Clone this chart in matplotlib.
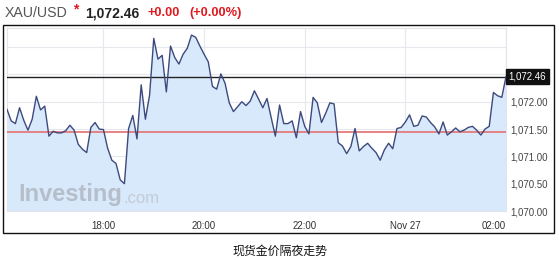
import matplotlib
matplotlib.use("Agg")
import matplotlib.pyplot as plt
from matplotlib.patches import Rectangle
import pandas as pd

plt.rcParams["font.family"] = ["Liberation Sans", "DejaVu Sans"]

# ── data (5-minute XAU/USD quotes, 16:05 -> 02:00) ─────────────────────────────
start_time = "2015-11-26 16:05"
n_points = 120
prices = [
    1071.86, 1071.65, 1071.60, 1071.89, 1071.66, 1071.48, 1071.68, 1072.10, 1071.85, 1071.92,
    1071.37, 1071.46, 1071.43, 1071.43, 1071.47, 1071.57, 1071.48, 1071.22, 1071.13, 1071.07,
    1071.53, 1071.62, 1071.50, 1071.49, 1071.15, 1070.93, 1070.87, 1070.57, 1070.50, 1071.51,
    1071.75, 1071.32, 1072.31, 1071.68, 1072.12, 1073.16, 1072.78, 1072.85, 1072.18, 1073.02,
    1072.81, 1072.69, 1072.87, 1072.98, 1073.22, 1073.18, 1073.02, 1072.87, 1072.73, 1072.28,
    1072.23, 1072.51, 1072.34, 1071.98, 1071.82, 1071.91, 1072.00, 1071.93, 1072.01, 1072.20,
    1072.05, 1071.89, 1072.06, 1071.71, 1071.37, 1071.94, 1071.60, 1071.60, 1071.65, 1071.34,
    1071.82, 1071.55, 1071.41, 1072.08, 1071.98, 1071.62, 1071.79, 1071.98, 1071.96, 1071.25,
    1071.19, 1071.05, 1071.18, 1071.51, 1071.10, 1071.18, 1071.24, 1071.15, 1071.07, 1070.93,
    1071.12, 1071.24, 1071.14, 1071.51, 1071.53, 1071.63, 1071.76, 1071.55, 1071.57, 1071.74,
    1071.72, 1071.62, 1071.54, 1071.41, 1071.63, 1071.39, 1071.45, 1071.52, 1071.45, 1071.48,
    1071.53, 1071.55, 1071.48, 1071.39, 1071.50, 1071.55, 1072.17, 1072.11, 1072.08, 1072.46,
]
last_price = 1072.46
prev_close = 1071.45

x_tick_times = ["2015-11-26 18:00", "2015-11-26 20:00", "2015-11-26 22:00",
                "2015-11-27 00:00", "2015-11-27 02:00"]
x_tick_labels = ["18:00", "20:00", "22:00", "Nov 27", "02:00"]
y_ticks = [1070.0, 1070.5, 1071.0, 1071.5, 1072.0, 1072.5, 1073.0]
y_tick_labels = ["1,070.00", "1,070.50", "1,071.00", "1,071.50", "1,072.00", "", ""]

times = pd.date_range(start_time, periods=n_points, freq="5min")

# ── figure ────────────────────────────────────────────────────────────────────
W, H = 559, 261
fig = plt.figure(figsize=(W / 100, H / 100), dpi=100)
fig.patch.set_facecolor("white")

# outer frame
fig.add_artist(Rectangle((3 / W, 1 - 233 / H), 551 / W, 208 / H,
                         transform=fig.transFigure, fill=False,
                         ec="#111111", lw=1.0))

ax = fig.add_axes([7 / W, 1 - 211 / H, 499 / W, 183 / H])
ax.set_facecolor("white")

ax.fill_between(times, 1060, prices, color="#d8e9fc", lw=0, zorder=1)
ax.plot(times, prices, color="#3d4a7c", lw=1.0, zorder=4)
ax.axhline(prev_close, color="#e57a7a", lw=1.3, zorder=3)
ax.axhline(last_price, color="#222222", lw=1.0, zorder=3)

ax.set_xlim(times[0], times[-1])
ax.set_ylim(1070.0, 1073.35)

ax.set_xticks(pd.to_datetime(x_tick_times))
ax.set_xticklabels(x_tick_labels, fontsize=7, color="#333333")
ax.xaxis.get_ticklabels()[-1].set_ha("right")
ax.set_yticks(y_ticks)
ax.set_yticklabels(y_tick_labels, fontsize=7, color="#444444")
ax.yaxis.tick_right()
ax.tick_params(axis="both", length=0)
ax.tick_params(axis="x", pad=7)
ax.tick_params(axis="y", pad=3)
ax.grid(True, color="#e6e8ee", lw=0.8, zorder=0)
ax.set_axisbelow(True)
for sp in ax.spines.values():
    sp.set_color("#e2e4ea")
    sp.set_linewidth(0.8)

# current price tag on the right
ax.annotate(f"{last_price:,.2f}", xy=(1.0, last_price),
            xycoords=("axes fraction", "data"),
            xytext=(2, 0), textcoords="offset points",
            ha="left", va="center", fontsize=7, color="white",
            bbox=dict(boxstyle="square,pad=0.25", fc="#111111", ec="#111111"),
            annotation_clip=False)

# watermark: ".com" placed right after the end of "Investing"
wm = ax.text(0.022, 0.055, "Investing", transform=ax.transAxes, fontsize=17,
             fontweight="bold", color="#b5bec9", zorder=2)
ax.annotate(".com", xy=(1.0, 0.0), xycoords=wm, xytext=(1, 0),
            textcoords="offset points", ha="left", va="bottom",
            fontsize=12, color="#c3cbd5", zorder=2)

# header
hy = 1 - 13 / H
fig.text(5 / W, hy, "XAU/USD", fontsize=10.2, color="#555555", va="center")
fig.text(73 / W, 1 - 9 / H, "*", fontsize=10, color="#e0191f", va="center",
         fontweight="bold")
fig.text(85 / W, hy, f"{last_price:,.2f}", fontsize=10, color="#222222",
         va="center", fontweight="bold")
fig.text(148 / W, hy, "+0.00", fontsize=9.2, color="#e0191f",
         va="center", fontweight="bold")
fig.text(189 / W, hy, "(+0.00%)", fontsize=9.2, color="#e0191f",
         va="center", fontweight="bold")

# caption
fig.text(0.5, 1 - 251 / H, "现货金价隔夜走势", fontsize=8.6, color="#111111",
         ha="center", va="center", family=["Noto Sans CJK SC", "DejaVu Sans"])

fig.savefig("out.png", dpi=100, facecolor="white")
